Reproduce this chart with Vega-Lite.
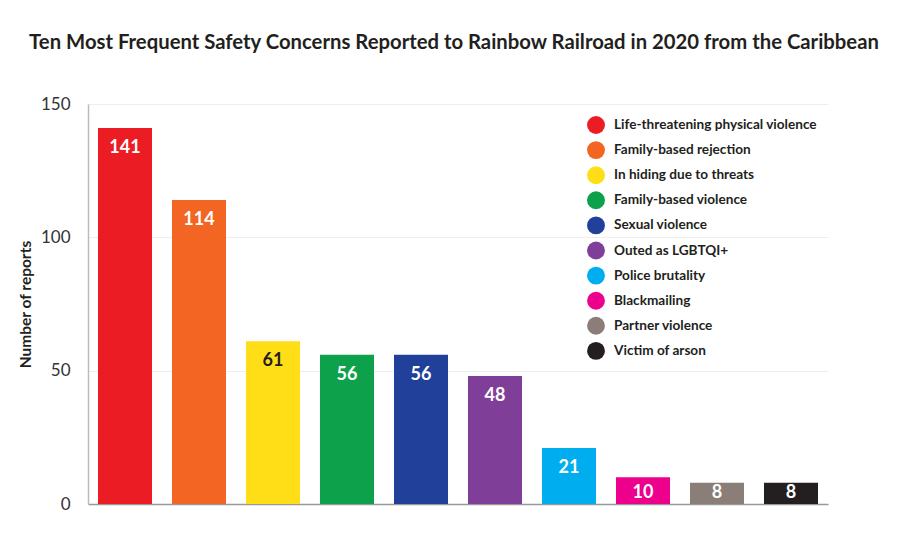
{
  "$schema": "https://vega.github.io/schema/vega-lite/v6.json",
  "autosize": "none",
  "width": 740,
  "height": 400,
  "padding": {"left": 88, "top": 104, "right": 72, "bottom": 43},
  "background": "white",
  "config": {
    "font": "Lato",
    "view": {"stroke": null}
  },
  "title": {
    "text": "Ten Most Frequent Safety Concerns Reported to Rainbow Railroad in 2020 from the Caribbean",
    "font": "Lato",
    "fontSize": 20.3,
    "fontWeight": "bold",
    "color": "#231F20",
    "anchor": "middle",
    "dx": -4,
    "offset": 42
  },
  "data": {
    "values": [
      {"concern": "Life-threatening physical violence", "reports": 141},
      {"concern": "Family-based rejection", "reports": 114},
      {"concern": "In hiding due to threats", "reports": 61},
      {"concern": "Family-based violence", "reports": 56},
      {"concern": "Sexual violence", "reports": 56},
      {"concern": "Outed as LGBTQI+", "reports": 48},
      {"concern": "Police brutality", "reports": 21},
      {"concern": "Blackmailing", "reports": 10},
      {"concern": "Partner violence", "reports": 8},
      {"concern": "Victim of arson", "reports": 8}
    ]
  },
  "encoding": {
    "x": {
      "field": "concern",
      "type": "nominal",
      "sort": ["Life-threatening physical violence", "Family-based rejection", "In hiding due to threats", "Family-based violence", "Sexual violence", "Outed as LGBTQI+", "Police brutality", "Blackmailing", "Partner violence", "Victim of arson"],
      "scale": {"paddingInner": 0.27, "paddingOuter": 0.135},
      "axis": {"labels": false, "ticks": false, "title": null, "domainColor": "#999", "domainWidth": 1.5}
    },
    "y": {
      "field": "reports",
      "type": "quantitative",
      "scale": {"domain": [0, 150]},
      "axis": {
        "values": [0, 50, 100, 150],
        "title": "Number of reports",
        "titleFont": "Lato",
        "titleFontSize": 15.5,
        "titleFontWeight": "bold",
        "titleColor": "#231F20",
        "titlePadding": 7,
        "labelFont": "Lato",
        "labelFontSize": 17,
        "labelColor": "#333",
        "labelPadding": 18,
        "ticks": false,
        "domainColor": "#bbb",
        "domainWidth": 1.5,
        "gridColor": "#eee",
        "gridWidth": 1
      }
    }
  },
  "layer": [
    {
      "mark": {"type": "bar"},
      "encoding": {
        "color": {
          "field": "concern",
          "type": "nominal",
          "sort": ["Life-threatening physical violence", "Family-based rejection", "In hiding due to threats", "Family-based violence", "Sexual violence", "Outed as LGBTQI+", "Police brutality", "Blackmailing", "Partner violence", "Victim of arson"],
          "scale": {
            "domain": ["Life-threatening physical violence", "Family-based rejection", "In hiding due to threats", "Family-based violence", "Sexual violence", "Outed as LGBTQI+", "Police brutality", "Blackmailing", "Partner violence", "Victim of arson"],
            "range": ["#EC1C24", "#F26522", "#FFDE17", "#0DA14B", "#21409A", "#7F3F98", "#00AEEF", "#EC008C", "#8B7D78", "#231F20"]
          },
          "legend": {
            "title": null,
            "orient": "none",
            "legendX": 499,
            "legendY": 12,
            "symbolType": "circle",
            "symbolSize": 320,
            "symbolStrokeWidth": 0,
            "labelFont": "Lato",
            "labelFontSize": 13.6,
            "labelFontWeight": "bold",
            "labelColor": "#231F20",
            "labelOffset": 9,
            "rowPadding": 7.1,
            "labelLimit": 300
          }
        }
      }
    },
    {
      "transform": [{"filter": "datum.reports >= 15"}],
      "mark": {"type": "text", "baseline": "top", "dy": 11, "fontSize": 18, "fontWeight": "bold", "font": "Lato"},
      "encoding": {
        "text": {"field": "reports", "type": "quantitative"},
        "color": {
          "condition": {"test": "datum.concern === 'In hiding due to threats'", "value": "#231F20"},
          "value": "white"
        }
      }
    },
    {
      "transform": [{"filter": "datum.reports < 15"}],
      "mark": {"type": "text", "baseline": "bottom", "dy": -2, "fontSize": 18, "fontWeight": "bold", "font": "Lato", "color": "white"},
      "encoding": {
        "y": {"datum": 0, "type": "quantitative"},
        "text": {"field": "reports", "type": "quantitative"}
      }
    }
  ]
}
